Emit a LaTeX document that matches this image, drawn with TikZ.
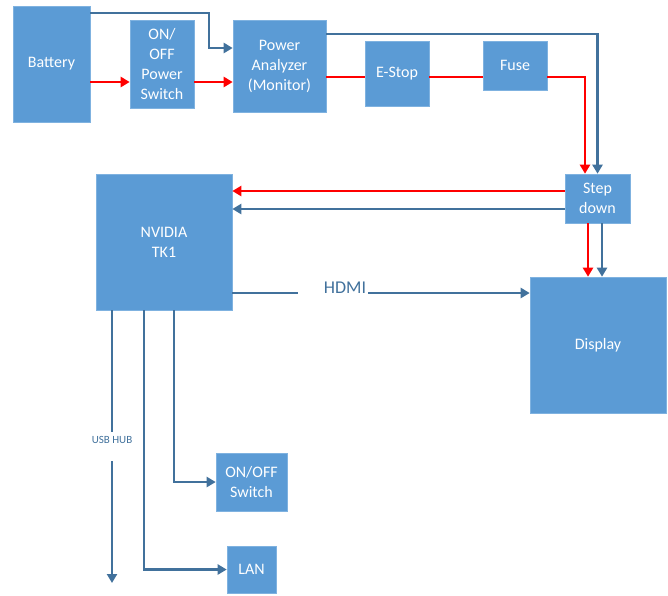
\documentclass[tikz,border=0pt]{standalone}
\usepackage{fontspec}
\setmainfont{Carlito}
\usetikzlibrary{arrows.meta}
\definecolor{boxfill}{HTML}{5B9BD5}
\definecolor{boxedge}{HTML}{7FB2E0}
\definecolor{lineblue}{HTML}{41719C}
\definecolor{linered}{HTML}{FF0000}
\tikzset{
  blk/.style={rectangle, fill=boxfill, draw=boxedge, line width=0.6pt, inner sep=0pt,
    text=white, align=center, font=\fontsize{16}{20}\selectfont},
  bl/.style={draw=lineblue, line width=2.3pt},
  rd/.style={draw=linered, line width=2.3pt},
  tip/.style={-{Triangle[length=9pt,width=10pt]}},
}
\begin{document}
\begin{tikzpicture}[x=1pt,y=-1pt]
\useasboundingbox (0,0) rectangle (668,595);
% boxes
\node[blk, minimum width=77pt, minimum height=116pt] (bat) at (51.5,64) {Battery};
\node[blk, minimum width=64pt, minimum height=88pt] (sw) at (162,64) {ON/\\OFF\\Power\\Switch};
\node[blk, minimum width=93pt, minimum height=92pt] (pa) at (279.5,66) {Power\\Analyzer\\(Monitor)};
\node[blk, minimum width=64pt, minimum height=65pt] (es) at (397,73.5) {E-Stop};
\node[blk, minimum width=64pt, minimum height=49pt] (fuse) at (515,65.5) {Fuse};
\node[blk, minimum width=65pt, minimum height=49pt] (sd) at (597.5,198.5) {Step\\down};
\node[blk, minimum width=136pt, minimum height=136pt] (nv) at (164,242) {NVIDIA\\TK1};
\node[blk, minimum width=136pt, minimum height=136pt] (disp) at (598,345) {Display};
\node[blk, minimum width=71pt, minimum height=58pt] (onoff) at (251.5,482) {ON/OFF\\Switch};
\node[blk, minimum width=49pt, minimum height=47pt] (lan) at (251.5,569.5) {LAN};
% labels
\node[text=lineblue, inner sep=0pt, font=\fontsize{18}{20}\selectfont] (hdmi) at (345,288) {HDMI};
\node[text=lineblue, inner sep=0pt, font=\fontsize{11}{12}\selectfont] (usb) at (112,440) {USB HUB};
\coordinate (usbend) at (112,583);
% power path (red)
\draw[rd, tip] (bat.east |- 0,82) -- (sw.west |- 0,82);
\draw[rd, tip] (sw.east |- 0,82) -- (pa.west |- 0,82);
\draw[rd] (pa.east |- 0,77) -- (es.west |- 0,77);
\draw[rd] (es.east |- 0,77) -- (fuse.west |- 0,77);
\draw[rd, tip] (fuse.east |- 0,77) -- (585,77) -- (sd.north -| 585,0);
\draw[rd, tip] (sd.west |- 0,191) -- (nv.east |- 0,191);
\draw[rd, tip] (sd.south -| 588,0) -- (disp.north -| 588,0);
% blue lines
\draw[bl, tip] (bat.east |- 0,13) -- (209,13) -- (209,48) -- (pa.west |- 0,48);
\draw[bl, tip] (pa.east |- 0,34) -- (597.5,34) -- (sd.north);
\draw[bl, tip] (sd.west |- 0,209) -- (nv.east |- 0,209);
\draw[bl, tip] (sd.south -| 602,0) -- (disp.north -| 602,0);
\draw[bl] (nv.east |- 0,293) -- (298,293);
\draw[bl, tip] (368,293) -- (disp.west |- 0,293);
\draw[bl] (nv.south -| 112,0) -- (112,432);
\draw[bl, tip] (112,461) -- (usbend);
\draw[bl, tip] (nv.south -| 144,0) |- (lan.west);
\draw[bl, tip] (nv.south -| 174,0) |- (onoff.west);
\end{tikzpicture}
\end{document}
